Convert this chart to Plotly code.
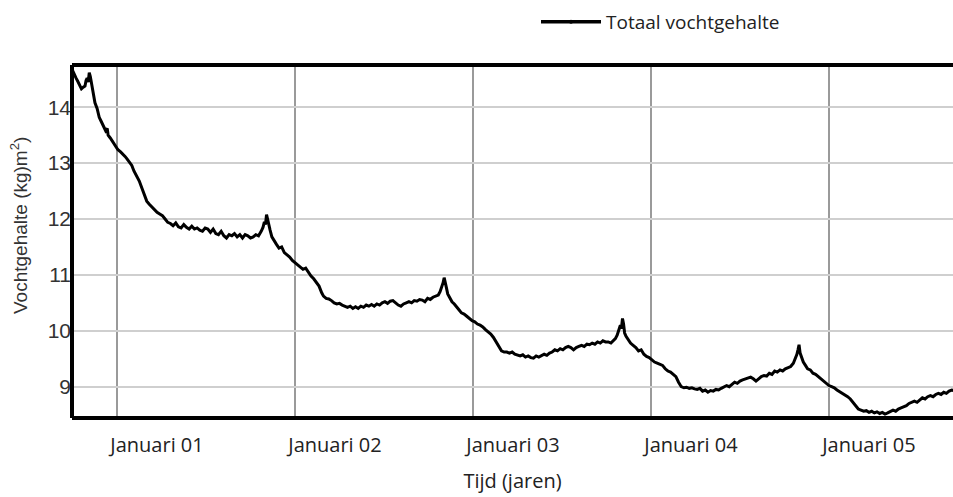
import plotly.graph_objects as go

# Time in years (1.0 = Januari 01)
jaar = [
    0.750, 0.760, 0.770, 0.780, 0.790, 0.800, 0.810, 0.820, 0.826, 0.832,
    0.838, 0.844, 0.850, 0.858, 0.866, 0.876, 0.888, 0.900, 0.912, 0.924,
    0.936, 0.945, 0.950, 0.962, 0.975, 0.990, 1.005, 1.020, 1.035, 1.045,
    1.055, 1.068, 1.083, 1.095, 1.110, 1.125, 1.140, 1.155, 1.167, 1.180,
    1.195, 1.210, 1.225, 1.240, 1.255, 1.270, 1.285, 1.300, 1.315, 1.330,
    1.345, 1.360, 1.375, 1.390, 1.405, 1.420, 1.435, 1.450, 1.465, 1.480,
    1.495, 1.510, 1.525, 1.540, 1.555, 1.570, 1.585, 1.600, 1.615, 1.630,
    1.645, 1.660, 1.675, 1.690, 1.705, 1.720, 1.735, 1.750, 1.765, 1.780,
    1.795, 1.810, 1.820, 1.828, 1.834, 1.840, 1.846, 1.852, 1.860, 1.870,
    1.880, 1.895, 1.910, 1.925, 1.940, 1.955, 1.970, 1.985, 2.000, 2.015,
    2.030, 2.045, 2.060, 2.075, 2.090, 2.105, 2.120, 2.135, 2.150, 2.160,
    2.175, 2.190, 2.205, 2.220, 2.235, 2.250, 2.265, 2.280, 2.295, 2.310,
    2.325, 2.340, 2.355, 2.370, 2.385, 2.400, 2.415, 2.430, 2.445, 2.460,
    2.475, 2.490, 2.505, 2.520, 2.535, 2.550, 2.565, 2.580, 2.595, 2.610,
    2.625, 2.640, 2.655, 2.670, 2.685, 2.700, 2.715, 2.730, 2.745, 2.760,
    2.775, 2.790, 2.805, 2.815, 2.825, 2.832, 2.838, 2.844, 2.850, 2.858,
    2.870, 2.882, 2.895, 2.908, 2.920, 2.935, 2.950, 2.965, 2.980, 2.995,
    3.010, 3.025, 3.040, 3.055, 3.070, 3.085, 3.100, 3.115, 3.130, 3.145,
    3.160, 3.175, 3.190, 3.205, 3.220, 3.235, 3.250, 3.265, 3.280, 3.295,
    3.310, 3.325, 3.340, 3.355, 3.370, 3.385, 3.400, 3.415, 3.430, 3.445,
    3.460, 3.475, 3.490, 3.505, 3.520, 3.535, 3.550, 3.565, 3.580, 3.595,
    3.610, 3.625, 3.640, 3.655, 3.670, 3.685, 3.700, 3.715, 3.730, 3.745,
    3.760, 3.775, 3.790, 3.800, 3.810, 3.820, 3.828, 3.834, 3.840, 3.846,
    3.852, 3.860, 3.872, 3.885, 3.900, 3.915, 3.930, 3.945, 3.960, 3.975,
    3.990, 4.005, 4.020, 4.035, 4.050, 4.065, 4.080, 4.095, 4.110, 4.125,
    4.140, 4.155, 4.170, 4.185, 4.200, 4.215, 4.230, 4.245, 4.260, 4.275,
    4.290, 4.305, 4.320, 4.335, 4.350, 4.365, 4.380, 4.395, 4.410, 4.425,
    4.440, 4.455, 4.470, 4.485, 4.500, 4.515, 4.530, 4.545, 4.560, 4.575,
    4.590, 4.605, 4.620, 4.635, 4.650, 4.665, 4.680, 4.695, 4.710, 4.725,
    4.740, 4.755, 4.770, 4.785, 4.800, 4.812, 4.820, 4.826, 4.832, 4.838,
    4.846, 4.856, 4.868, 4.880, 4.895, 4.910, 4.925, 4.940, 4.955, 4.970,
    4.985, 5.000, 5.015, 5.030, 5.045, 5.060, 5.075, 5.090, 5.105, 5.120,
    5.135, 5.150, 5.165, 5.180, 5.195, 5.210, 5.225, 5.240, 5.255, 5.270,
    5.285, 5.300, 5.315, 5.330, 5.345, 5.360, 5.375, 5.390, 5.405, 5.420,
    5.435, 5.450, 5.465, 5.480, 5.495, 5.510, 5.525, 5.540, 5.555, 5.570,
    5.585, 5.600, 5.615, 5.630, 5.645, 5.660, 5.675, 5.690, 5.700,
]

# Total moisture content (kg/m2)
vochtgehalte = [
    14.66, 14.58, 14.52, 14.46, 14.40, 14.33, 14.36, 14.38, 14.48, 14.52,
    14.45, 14.62, 14.55, 14.38, 14.25, 14.08, 13.98, 13.82, 13.74, 13.66,
    13.58, 13.62, 13.50, 13.45, 13.38, 13.32, 13.24, 13.20, 13.16, 13.12,
    13.08, 13.02, 12.96, 12.86, 12.78, 12.68, 12.55, 12.42, 12.32, 12.27,
    12.22, 12.18, 12.12, 12.09, 12.06, 12.00, 11.94, 11.92, 11.88, 11.93,
    11.86, 11.84, 11.90, 11.85, 11.82, 11.87, 11.82, 11.84, 11.80, 11.78,
    11.84, 11.82, 11.76, 11.82, 11.74, 11.72, 11.78, 11.70, 11.66, 11.72,
    11.70, 11.74, 11.68, 11.72, 11.66, 11.72, 11.70, 11.66, 11.68, 11.72,
    11.70, 11.78, 11.85, 11.95, 11.90, 12.08, 11.98, 11.88, 11.80, 11.68,
    11.62, 11.55, 11.48, 11.50, 11.40, 11.36, 11.32, 11.26, 11.22, 11.18,
    11.14, 11.10, 11.12, 11.04, 10.98, 10.93, 10.86, 10.80, 10.68, 10.62,
    10.58, 10.57, 10.54, 10.50, 10.48, 10.49, 10.46, 10.44, 10.42, 10.44,
    10.40, 10.43, 10.40, 10.44, 10.42, 10.46, 10.44, 10.47, 10.44, 10.48,
    10.46, 10.50, 10.52, 10.49, 10.53, 10.54, 10.50, 10.46, 10.44, 10.48,
    10.50, 10.52, 10.50, 10.54, 10.53, 10.56, 10.55, 10.52, 10.58, 10.56,
    10.60, 10.62, 10.64, 10.70, 10.78, 10.86, 10.95, 10.84, 10.78, 10.66,
    10.58, 10.52, 10.48, 10.42, 10.38, 10.32, 10.30, 10.26, 10.22, 10.18,
    10.16, 10.12, 10.10, 10.07, 10.02, 9.98, 9.94, 9.88, 9.80, 9.70,
    9.64, 9.62, 9.62, 9.60, 9.62, 9.58, 9.57, 9.55, 9.57, 9.53,
    9.55, 9.52, 9.51, 9.55, 9.53, 9.56, 9.58, 9.56, 9.60, 9.62,
    9.66, 9.64, 9.68, 9.66, 9.70, 9.72, 9.70, 9.66, 9.70, 9.72,
    9.74, 9.72, 9.76, 9.75, 9.78, 9.76, 9.80, 9.78, 9.82, 9.80,
    9.80, 9.78, 9.82, 9.86, 9.92, 10.02, 10.10, 10.04, 10.22, 10.12,
    9.96, 9.90, 9.84, 9.78, 9.74, 9.70, 9.64, 9.66, 9.58, 9.54,
    9.52, 9.48, 9.44, 9.42, 9.40, 9.38, 9.32, 9.28, 9.26, 9.22,
    9.18, 9.08, 9.00, 8.98, 8.99, 8.97, 8.98, 8.96, 8.95, 8.97,
    8.92, 8.94, 8.90, 8.93, 8.92, 8.95, 8.94, 8.97, 8.99, 9.02,
    9.00, 9.04, 9.08, 9.06, 9.10, 9.12, 9.14, 9.16, 9.17, 9.14,
    9.10, 9.14, 9.18, 9.20, 9.19, 9.24, 9.22, 9.28, 9.26, 9.30,
    9.28, 9.32, 9.34, 9.36, 9.42, 9.50, 9.58, 9.66, 9.75, 9.60,
    9.52, 9.44, 9.38, 9.32, 9.30, 9.24, 9.22, 9.18, 9.14, 9.10,
    9.06, 9.02, 9.00, 8.98, 8.94, 8.91, 8.88, 8.86, 8.82, 8.78,
    8.72, 8.66, 8.60, 8.58, 8.56, 8.57, 8.54, 8.56, 8.53, 8.55,
    8.52, 8.54, 8.51, 8.53, 8.55, 8.58, 8.56, 8.60, 8.62, 8.64,
    8.66, 8.70, 8.72, 8.74, 8.72, 8.76, 8.80, 8.78, 8.82, 8.84,
    8.82, 8.86, 8.88, 8.86, 8.90, 8.88, 8.92, 8.94, 8.93,
]

tick_jaren = [1, 2, 3, 4, 5]
tick_labels = ["Januari 01", "Januari 02", "Januari 03", "Januari 04", "Januari 05"]
y_ticks = [9, 10, 11, 12, 13, 14]

LABEL_FONT = "Open Sans, sans-serif"
ARIAL = "Liberation Sans, Arial, sans-serif"

fig = go.Figure()
fig.add_trace(go.Scatter(
    x=jaar, y=vochtgehalte, mode="lines",
    line=dict(color="black", width=3),
    showlegend=False,
))
# legend entry (line with small dot)
fig.add_trace(go.Scatter(
    x=[None], y=[None], mode="lines+markers",
    name="Totaal vochtgehalte",
    line=dict(color="black", width=3.5),
    marker=dict(color="black", size=4),
))

fig.update_layout(
    width=953, height=497,
    margin=dict(l=72, r=0, t=67, b=81, autoexpand=False),
    paper_bgcolor="white", plot_bgcolor="white",
    showlegend=True,
    legend=dict(
        x=536 / 953, y=1 - 22 / 497, xanchor="left", yanchor="middle",
        xref="container", yref="container",
        orientation="h",
        font=dict(family=LABEL_FONT, size=19, color="#222"),
        itemwidth=60,
        bgcolor="rgba(0,0,0,0)",
    ),
    xaxis=dict(
        range=[0.747, 5.697],
        tickvals=tick_jaren, ticktext=tick_labels,
        ticklabelshift=40, ticklabelstandoff=8,
        tickfont=dict(family=LABEL_FONT, size=20, color="#222"),
        showgrid=True, gridcolor="#9a9a9a", gridwidth=2,
        showline=True, linecolor="black", linewidth=4, mirror=True,
        ticks="", zeroline=False, automargin=False,
        title=dict(text="Tijd (jaren)", font=dict(family=LABEL_FONT, size=20, color="#222"), standoff=18),
    ),
    yaxis=dict(
        range=[8.475, 14.72],
        tickvals=y_ticks,
        tickfont=dict(family=ARIAL, size=21, color="#333"),
        showgrid=True, gridcolor="#cfcfcf", gridwidth=2,
        showline=False,
        ticks="", zeroline=False, automargin=False,
    ),
    shapes=[dict(
        type="line", xref="paper", yref="paper",
        x0=0, x1=0, y0=-0.006, y1=1.006,
        line=dict(color="black", width=4),
        layer="above",
    )],
    annotations=[dict(
        text="Vochtgehalte (kg)m<sup>2</sup>)",
        xref="paper", yref="paper",
        x=-53 / 881, y=(418 - 228) / (497 - 67 - 81),
        xanchor="center", yanchor="middle",
        textangle=-90, showarrow=False,
        font=dict(family=ARIAL, size=19, color="#333"),
    )],
)

fig.write_html("out.html", config={"displayModeBar": False},
               post_script="document.body.style.margin='0';")
